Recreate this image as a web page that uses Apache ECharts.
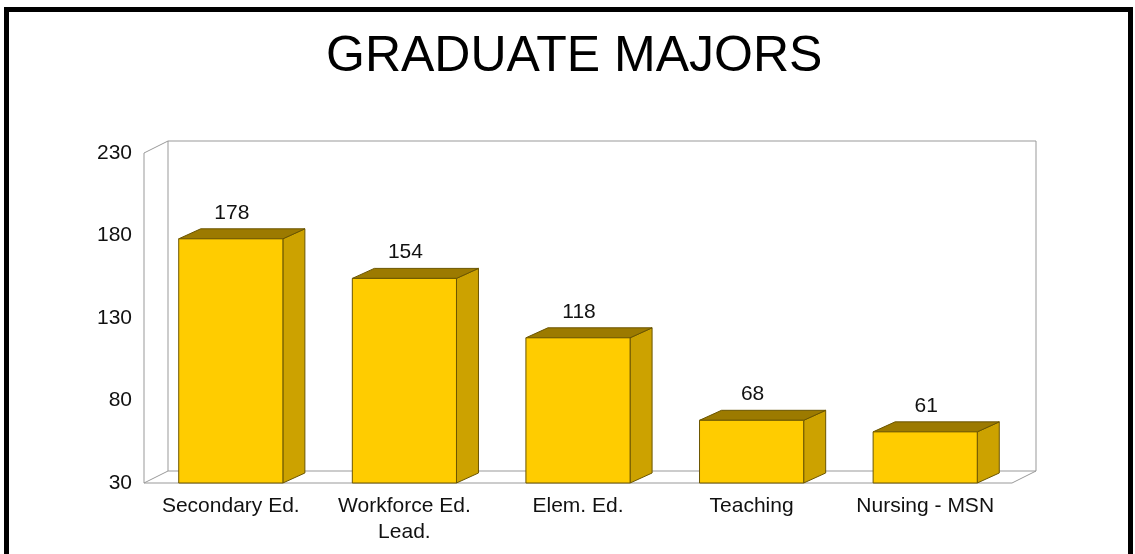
<!DOCTYPE html>
<html>
<head>
<meta charset="utf-8">
<script src="https://cdn.jsdelivr.net/npm/echarts@6/dist/echarts.min.js"></script>
<style>
html,body{margin:0;padding:0;background:#fff;}
#chart{width:1135px;height:554px;}
</style>
</head>
<body>
<div id="chart"></div>
<script>
const TITLE = 'GRADUATE MAJORS';
const categories = ['Secondary Ed.', 'Workforce Ed.\nLead.', 'Elem. Ed.', 'Teaching', 'Nursing - MSN'];
const values = [178, 154, 118, 68, 61];
const Y_MIN = 30, Y_MAX = 230, Y_STEP = 50;

const FONT = '"Liberation Sans", Arial, sans-serif';
const FRONT = '#FFCC00', SIDE = '#CCA200', TOP = '#9C7A00', EDGE = '#6B5500';
const WALL = '#999999';

const chart = echarts.init(document.getElementById('chart'));

function renderFrame(params, api) {
  const cs = params.coordSys;
  const x0 = cs.x, x1 = cs.x + cs.width, y0 = cs.y, y1 = cs.y + cs.height;
  const dx = 24, dy = 12;
  const st = {stroke: WALL, lineWidth: 1, fill: null};
  return {
    type: 'group',
    children: [
      {type: 'polyline', shape: {points: [[x0 + dx, y1 - dy], [x0 + dx, y0 - dy], [x1 + dx, y0 - dy], [x1 + dx, y1 - dy], [x0 + dx, y1 - dy]]}, style: st},
      {type: 'polyline', shape: {points: [[x0 + dx, y0 - dy], [x0, y0], [x0, y1], [x0 + dx, y1 - dy]]}, style: st},
      {type: 'polyline', shape: {points: [[x0, y1], [x1, y1], [x1 + dx, y1 - dy]]}, style: st}
    ]
  };
}

function renderBar(params, api) {
  const idx = api.value(0), v = api.value(1);
  const top = api.coord([idx, v]);
  const base = api.coord([idx, Y_MIN]);
  const band = api.size([1, 0])[0];
  const w = band * 0.6;
  const xa = top[0] - w / 2, xb = top[0] + w / 2, yt = top[1], yb = base[1];
  const dx = 22, dy = 10;
  const edge = {stroke: EDGE, lineWidth: 1};
  return {
    type: 'group',
    children: [
      {type: 'polygon', shape: {points: [[xb, yt], [xb + dx, yt - dy], [xb + dx, yb - dy], [xb, yb]]}, style: Object.assign({fill: SIDE}, edge)},
      {type: 'polygon', shape: {points: [[xa, yt], [xa + dx, yt - dy], [xb + dx, yt - dy], [xb, yt]]}, style: Object.assign({fill: TOP}, edge)},
      {type: 'rect', shape: {x: xa, y: yt, width: w, height: yb - yt}, style: Object.assign({fill: FRONT}, edge)},
      {type: 'text', x: top[0] + 1, y: yt - 26, style: {text: String(v), fill: '#111', font: '21px ' + FONT, align: 'center', verticalAlign: 'middle'}}
    ]
  };
}

chart.setOption({
  animation: false,
  backgroundColor: '#fff',
  title: {
    text: TITLE, left: 321, top: 27,
    textStyle: {fontFamily: FONT, fontSize: 50, fontWeight: 'normal', color: '#000'}
  },
  graphic: [
    {type: 'rect', shape: {x: 6.5, y: 9.5, width: 1124, height: 700}, style: {fill: null, stroke: '#000', lineWidth: 5}, z: 100}
  ],
  grid: {left: 144, right: 123, top: 153, bottom: 71, outerBoundsMode: 'none', containLabel: false},
  xAxis: {
    type: 'category', data: categories,
    axisLine: {show: false}, axisTick: {show: false}, splitLine: {show: false},
    axisLabel: {fontFamily: FONT, fontSize: 21, color: '#111', margin: 10, lineHeight: 26, interval: 0}
  },
  yAxis: {
    type: 'value', min: Y_MIN, max: Y_MAX, interval: Y_STEP,
    axisLine: {show: false}, axisTick: {show: false}, splitLine: {show: false},
    axisLabel: {fontFamily: FONT, fontSize: 21, color: '#111', margin: 12}
  },
  series: [
    {type: 'custom', renderItem: renderFrame, data: [[0, Y_MIN]], z: 1, silent: true},
    {type: 'custom', renderItem: renderBar, data: values.map((v, i) => [i, v]), z: 2}
  ]
});
</script>
</body>
</html>
